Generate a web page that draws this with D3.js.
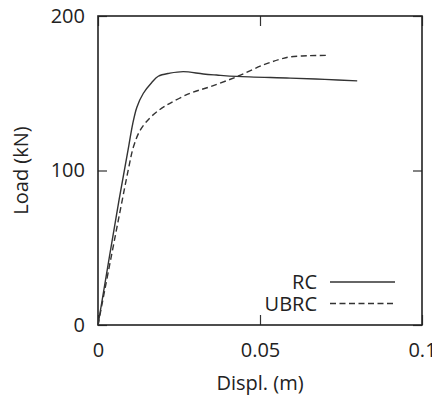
<!DOCTYPE html>
<html>
<head>
<meta charset="utf-8">
<script src="https://cdn.jsdelivr.net/npm/d3@7"></script>
<style>
  body { margin: 0; background: #fff; }
  svg text { font-family: "Open Sans", sans-serif; fill: #222; }
</style>
</head>
<body>
<div id="chart"></div>
<script>
// datos
const xTicks = [0, 0.05, 0.1];
const xTickLabels = ['0', '0.05', '0.1'];
const yTicks = [0, 100, 200];
const yTickLabels = ['0', '100', '200'];

const rcDispl = [0, 0.0065, 0.0095, 0.0107, 0.012, 0.014, 0.0166, 0.0186, 0.0222, 0.0263, 0.0325, 0.0366, 0.0428, 0.0593, 0.07, 0.08];
const rcLoad  = [0, 81, 116, 130, 141, 150, 157, 161, 163, 164, 162.5, 161.8, 160.9, 159.8, 159, 158];

const ubrcDispl = [0, 0.0075, 0.0095, 0.0109, 0.013, 0.016, 0.0191, 0.0222, 0.0284, 0.0346, 0.0428, 0.051, 0.0572, 0.0593, 0.065, 0.0706];
const ubrcLoad  = [0, 81, 102, 115, 126, 134, 139.5, 143.5, 150, 154.2, 160.7, 168.3, 172.6, 173.5, 174.3, 174.5];

const seriesNames = ['RC', 'UBRC'];

const W = 432, H = 395;
const margin = {top: 16, right: 10, bottom: 70, left: 98};
const width = W - margin.left - margin.right,
      height = H - margin.top - margin.bottom;
const FS = 20;

const svg = d3.select('#chart').append('svg')
    .attr('width', W).attr('height', H);
const g = svg.append('g')
    .attr('transform', 'translate(' + margin.left + ',' + margin.top + ')');

const x = d3.scaleLinear().domain([0, 0.1]).range([0, width]);
const y = d3.scaleLinear().domain([0, 200]).range([height, 0]);

// ticks hacia dentro, abajo y arriba
g.append('g')
    .attr('transform', 'translate(0,' + height + ')')
    .call(d3.axisBottom(x).tickValues(xTicks).tickSize(-10).tickFormat((d, i) => xTickLabels[i]).tickPadding(17.5))
    .call(ax => ax.select('.domain').remove());
g.append('g')
    .call(d3.axisTop(x).tickValues(xTicks).tickSize(-10).tickFormat(''))
    .call(ax => ax.select('.domain').remove());
g.append('g')
    .call(d3.axisLeft(y).tickValues(yTicks).tickSize(-9).tickFormat((d, i) => yTickLabels[i]).tickPadding(13))
    .call(ax => ax.select('.domain').remove());
g.append('g')
    .attr('transform', 'translate(' + width + ',0)')
    .call(d3.axisRight(y).tickValues(yTicks).tickSize(-9).tickFormat(''))
    .call(ax => ax.select('.domain').remove());

g.selectAll('.tick line').attr('stroke', '#333').attr('stroke-width', 1.2);
g.selectAll('.tick text')
    .attr('font-size', FS)
    .attr('font-family', '"Open Sans", sans-serif')
    .attr('fill', '#222');

// marco
g.append('rect')
    .attr('x', 0).attr('y', 0)
    .attr('width', width).attr('height', height)
    .attr('fill', 'none').attr('stroke', '#222').attr('stroke-width', 1.6);

const line = d3.line()
    .x(d => x(d[0]))
    .y(d => y(d[1]))
    .curve(d3.curveCatmullRom.alpha(0.5));

const rcData = rcDispl.map((d, i) => [d, rcLoad[i]]);
const ubrcData = ubrcDispl.map((d, i) => [d, ubrcLoad[i]]);

g.append('path').datum(rcData)
    .attr('d', line)
    .attr('fill', 'none').attr('stroke', '#333').attr('stroke-width', 1.4);
g.append('path').datum(ubrcData)
    .attr('d', line)
    .attr('fill', 'none').attr('stroke', '#333').attr('stroke-width', 1.4)
    .attr('stroke-dasharray', '6,3.5');

// leyenda
const legend = g.append('g').attr('transform', 'translate(' + (330 - margin.left) + ',' + (282 - margin.top) + ')');
seriesNames.forEach(function(name, i) {
    const row = legend.append('g').attr('transform', 'translate(0,' + (i * 21.5) + ')');
    row.append('line')
        .attr('x1', 0).attr('x2', 65).attr('y1', 0).attr('y2', 0)
        .attr('stroke', '#333').attr('stroke-width', 1.4)
        .attr('stroke-dasharray', i === 1 ? '6,3.5' : null);
    row.append('text')
        .attr('x', -13).attr('y', 0).attr('dy', '0.36em')
        .attr('text-anchor', 'end').attr('font-size', FS)
        .text(name);
});

// títulos de ejes
svg.append('text')
    .attr('x', margin.left + width / 2).attr('y', 390)
    .attr('text-anchor', 'middle').attr('font-size', FS)
    .text('Displ. (m)');
svg.append('text')
    .attr('transform', 'translate(28,' + (margin.top + height / 2) + ') rotate(-90)')
    .attr('text-anchor', 'middle').attr('font-size', FS)
    .text('Load (kN)');
</script>
</body>
</html>
